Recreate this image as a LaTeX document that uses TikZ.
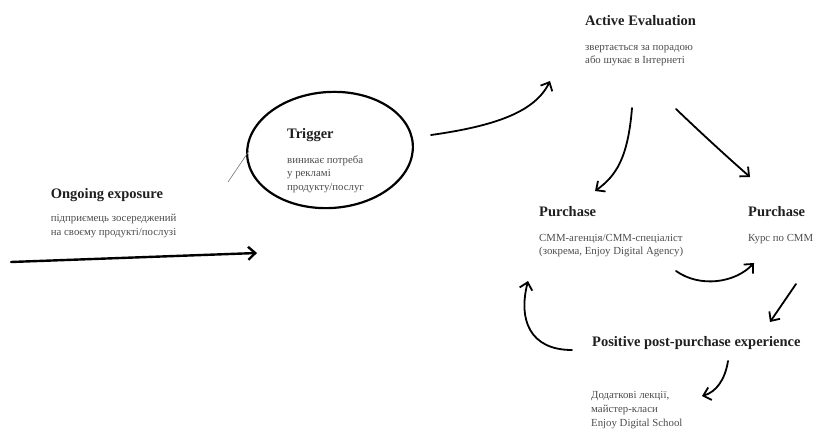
\documentclass[tikz,border=0pt]{standalone}
\usepackage{fontspec}
\setmainfont{Liberation Serif}
\usetikzlibrary{arrows.meta,shapes.geometric}

\begin{document}
\begin{tikzpicture}[x=1pt, y=-1pt,
        heading/.style={anchor=base west, inner sep=0pt, font=\fontsize{14.5}{17}\selectfont\bfseries, text=black!88},
        note/.style={anchor=base west, inner sep=0pt, align=left, font=\fontsize{10.8}{13.6}\selectfont, text=black!70},
        stroke/.style={-{Straight Barb[length=7pt, width=13pt]}, line width=1.8pt, line cap=round},
        loop/.style={ellipse, draw, line width=2.2pt, minimum width=166pt, minimum height=116pt, inner sep=0pt}
    ]
    \useasboundingbox (0,0) rectangle (814,430);

    % Define stages (notes sit on the baseline of their last line)
    \node[heading] (ongoing) at (50.7,199) {Ongoing exposure};
    \node[note] (ongoingnote) at (50.7,235.6) {підприємець зосереджений\\на своєму продукті/послузі};

    \node[loop, rotate=4] (triggerloop) at (330,150) {};
    \node[heading] (trigger) at (287,139) {Trigger};
    \node[note] (triggernote) at (287,190.5) {виникає потреба\\у рекламі\\продукту/послуг};

    \node[heading] (active) at (585,26) {Active Evaluation};
    \node[note] (activenote) at (585,63.8) {звертається за порадою\\або шукає в Інтернеті};

    \node[heading] (buyagency) at (539,217) {Purchase};
    \node[note] (agencynote) at (539,255) {СММ-агенція/СММ-спеціаліст\\(зокрема, Enjoy Digital Agency)};

    \node[heading] (buycourse) at (748,217) {Purchase};
    \node[note] (coursenote) at (748,241.5) {Курс по СММ};

    \node[heading] (positive) at (592,346.5) {Positive post-purchase experience};
    \node[note] (extranote) at (591,426) {Додаткові лекції,\\майстер-класи\\Enjoy Digital School};

    % Define stroke ends
    \coordinate (expstart) at (11,262);
    \coordinate (exptip) at (257,253);
    \coordinate (tailstart) at (228,182);
    \coordinate (tailend) at (249,151);
    \coordinate (trigout) at (431,135);
    \coordinate (activein) at (550,81);
    \coordinate (activeleft) at (632,108);
    \coordinate (agencyin) at (595,191);
    \coordinate (activeright) at (676,109);
    \coordinate (coursein) at (750,177);
    \coordinate (agencyout) at (676,271);
    \coordinate (coursefrom) at (754,263);
    \coordinate (courseout) at (796,284);
    \coordinate (positivein) at (770,322);
    \coordinate (positiveleft) at (572,350);
    \coordinate (agencyback) at (528,281);
    \coordinate (positivedown) at (728,361);
    \coordinate (extrain) at (702,396);

    % Draw strokes
    \draw[stroke, line width=2.4pt] (expstart) -- (exptip);
    \draw[line width=0.6pt, black!55] (tailstart) -- (tailend);
    \draw[stroke] (trigout) .. controls (495,126) and (535,112) .. (activein);
    \draw[stroke] (activeleft) .. controls (628,158) and (616,176) .. (agencyin);
    \draw[stroke] (activeright) .. controls (700,132) and (725,155) .. (coursein);
    \draw[stroke] (agencyout) .. controls (700,288) and (735,283) .. (coursefrom);
    \draw[stroke] (courseout) -- (positivein);
    \draw[stroke] (positiveleft) .. controls (530,350) and (518,320) .. (agencyback);
    \draw[stroke] (positivedown) .. controls (725,380) and (716,392) .. (extrain);

\end{tikzpicture}
\end{document}
